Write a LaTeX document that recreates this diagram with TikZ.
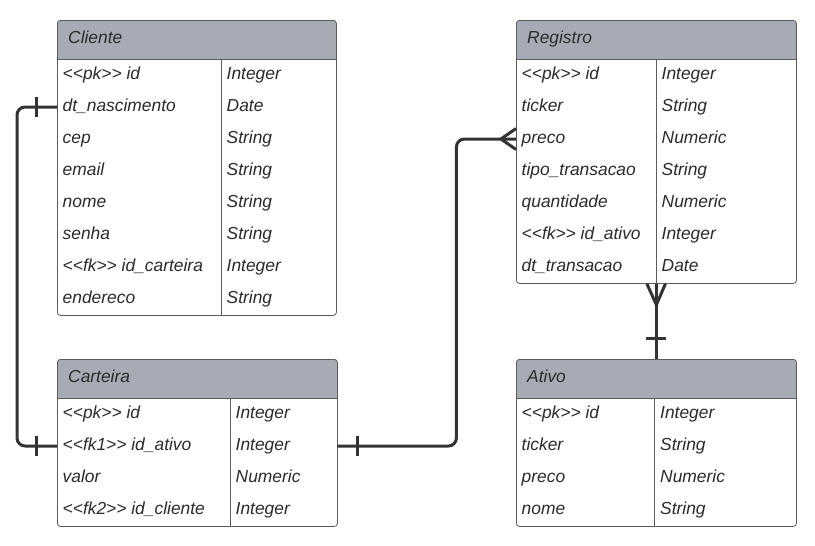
\documentclass[tikz,border=0pt]{standalone}
\usepackage{fontspec}
\setmainfont{Liberation Sans}
\usetikzlibrary{positioning}

\definecolor{headgray}{HTML}{A7ACB4}
\definecolor{framegray}{HTML}{5C5C5C}
\definecolor{linedark}{HTML}{333333}
\definecolor{txtdark}{HTML}{2B2B2B}
\newcommand{\stereo}[1]{<\kern0pt<#1>\kern0pt>}

\tikzset{
  entity/.style={draw=framegray, line width=0.8pt, fill=white, rounded corners=3pt,
    inner sep=0pt, anchor=north west,
    path picture={
      \fill[headgray, sharp corners] (path picture bounding box.north west)
        rectangle ([yshift=-39pt]path picture bounding box.north east);
      \draw[framegray, line width=0.8pt, sharp corners] ([yshift=-39pt]path picture bounding box.north west)
        -- ([yshift=-39pt]path picture bounding box.north east);}},
  divline/.style={draw=framegray, line width=0.8pt},
  titletxt/.style={anchor=west, inner sep=0pt, text height=12pt, text depth=4pt,
    text=txtdark, font=\fontsize{17.4}{20}\selectfont\itshape},
  field/.style={anchor=west, inner sep=0pt, text height=12pt, text depth=4pt,
    text=txtdark, font=\fontsize{17.4}{20}\selectfont\itshape},
  rowbox/.style={anchor=west, inner sep=0pt, minimum height=32pt},
  rel/.style={draw=linedark, line width=3pt, rounded corners=8pt},
  onebar/.style={draw=linedark, line width=3pt},
  crowfoot/.style={draw=linedark, line width=3pt, line join=round}
}

\begin{document}
\begin{tikzpicture}[x=1pt,y=-1pt]
  \useasboundingbox (0,0) rectangle (815,546);
  % Cliente
  \node[entity, minimum width=279pt, minimum height=295pt] (cliente) at (57,20) {};
  \draw[divline] (221,59) -- (221,315);
  \node[titletxt] at (68,39.5) {Cliente};
  \foreach \i/\f/\t in {1/\stereo{pk} id/Integer, 2/dt\_nascimento/Date, 3/cep/String,
      4/email/String, 5/nome/String, 6/senha/String,
      7/\stereo{fk} id\_carteira/Integer, 8/endereco/String} {
    \node[rowbox, minimum width=279pt] (cli\i) at (57,43+32*\i) {};
    \node[field, right=5.5pt of cli\i.west] {\f};
    \node[field] at (226.5,43+32*\i) {\t};
  }
  % Carteira
  \node[entity, minimum width=280pt, minimum height=167pt] (carteira) at (57,359) {};
  \draw[divline] (230,398) -- (230,526);
  \node[titletxt] at (68,378.5) {Carteira};
  \foreach \i/\f/\t in {1/\stereo{pk} id/Integer, 2/\stereo{fk1} id\_ativo/Integer,
      3/valor/Numeric, 4/\stereo{fk2} id\_cliente/Integer} {
    \node[rowbox, minimum width=280pt] (car\i) at (57,382+32*\i) {};
    \node[field, right=5.5pt of car\i.west] {\f};
    \node[field] at (235.5,382+32*\i) {\t};
  }
  % Registro
  \node[entity, minimum width=280pt, minimum height=263pt] (registro) at (516,20) {};
  \draw[divline] (656,59) -- (656,283);
  \node[titletxt] at (527,39.5) {Registro};
  \foreach \i/\f/\t in {1/\stereo{pk} id/Integer, 2/ticker/String, 3/preco/Numeric,
      4/tipo\_transacao/String, 5/quantidade/Numeric,
      6/\stereo{fk} id\_ativo/Integer, 7/dt\_transacao/Date} {
    \node[rowbox, minimum width=280pt] (reg\i) at (516,43+32*\i) {};
    \node[field, right=5.5pt of reg\i.west] {\f};
    \node[field] at (661.5,43+32*\i) {\t};
  }
  % Ativo
  \node[entity, minimum width=280pt, minimum height=167pt] (ativo) at (516,359) {};
  \draw[divline] (654,398) -- (654,526);
  \node[titletxt] at (527,378.5) {Ativo};
  \foreach \i/\f/\t in {1/\stereo{pk} id/Integer, 2/ticker/String,
      3/preco/Numeric, 4/nome/String} {
    \node[rowbox, minimum width=280pt] (ati\i) at (516,382+32*\i) {};
    \node[field, right=5.5pt of ati\i.west] {\f};
    \node[field] at (660,382+32*\i) {\t};
  }
  % relations
  \draw[rel] (cli2.west) -- ++(-40,0) |- (car2.west);
  \draw[onebar] ([xshift=-21pt]cli2.west) ++(0,-10) -- ++(0,20);
  \draw[onebar] ([xshift=-21pt]car2.west) ++(0,-10) -- ++(0,20);
  %
  \draw[rel] (car2.east) -- ++(119,0) |- (reg3.west);
  \draw[onebar] ([xshift=20pt]car2.east) ++(0,-10) -- ++(0,20);
  \draw[crowfoot] ([yshift=10.5pt]reg3.west) -- ([xshift=-15pt]reg3.west) -- ([yshift=-10.5pt]reg3.west);
  %
  \draw[rel] (registro.south) -- (ativo.north);
  \draw[crowfoot] ([xshift=-9.5pt]registro.south) -- ([yshift=-21pt]registro.south) -- ([xshift=9pt]registro.south);
  \draw[onebar] ([yshift=-55pt]registro.south) ++(-10,0) -- ++(20,0);
\end{tikzpicture}
\end{document}
